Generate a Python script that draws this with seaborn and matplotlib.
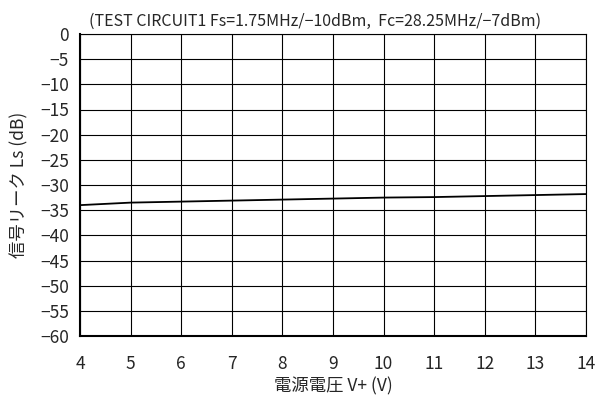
import matplotlib
matplotlib.use("Agg")
import matplotlib.pyplot as plt
import seaborn as sns
import pandas as pd

voltage = [4, 5, 6, 7, 8, 9, 10, 11, 12, 13, 14]
leak_db = [-34.0, -33.5, -33.3, -33.1, -32.9, -32.7, -32.5, -32.4, -32.2, -32.0, -31.8]
x_ticks = [4, 5, 6, 7, 8, 9, 10, 11, 12, 13, 14]
y_ticks = [0, -5, -10, -15, -20, -25, -30, -35, -40, -45, -50, -55, -60]

sns.set_style("white")
plt.rcParams['font.family'] = ['Noto Sans CJK JP', 'DejaVu Sans']
plt.rcParams['axes.unicode_minus'] = True

df = pd.DataFrame({"V": voltage, "L": leak_db})
fig = plt.figure(figsize=(5.98, 4.01), dpi=100)
ax = fig.add_axes([80/598, 1-336/401, (586-80)/598, (336-34)/401])
sns.lineplot(data=df, x="V", y="L", ax=ax, color="black", linewidth=1.3)
ax.set_xlim(4, 14)
ax.set_ylim(-60, 0)
ax.set_xticks(x_ticks)
ax.set_yticks(y_ticks)
ax.set_yticklabels([("\u2212" + str(-t)) if t < 0 else str(t) for t in y_ticks])
ax.grid(True, color="black", linewidth=0.8)
for s in ax.spines.values():
    s.set_color("black")
    s.set_linewidth(0.8)
ax.spines['left'].set_linewidth(1.5)
ax.spines['bottom'].set_linewidth(1.5)
ax.tick_params(axis='y', direction='in', length=4, labelsize=12.5, pad=8, color='black')
ax.tick_params(axis='x', length=0, labelsize=12.5, pad=14)
ax.set_xlabel("電源電圧 V+ (V)", fontsize=12.5, labelpad=3)
ax.set_ylabel("信号リーク Ls (dB)", fontsize=12.5, labelpad=8)
ax.set_title("(TEST CIRCUIT1 Fs=1.75MHz/\u221210dBm,  Fc=28.25MHz/\u22127dBm)", fontsize=11.5, pad=6, x=0.465)
fig.savefig("out.png", dpi=100)
